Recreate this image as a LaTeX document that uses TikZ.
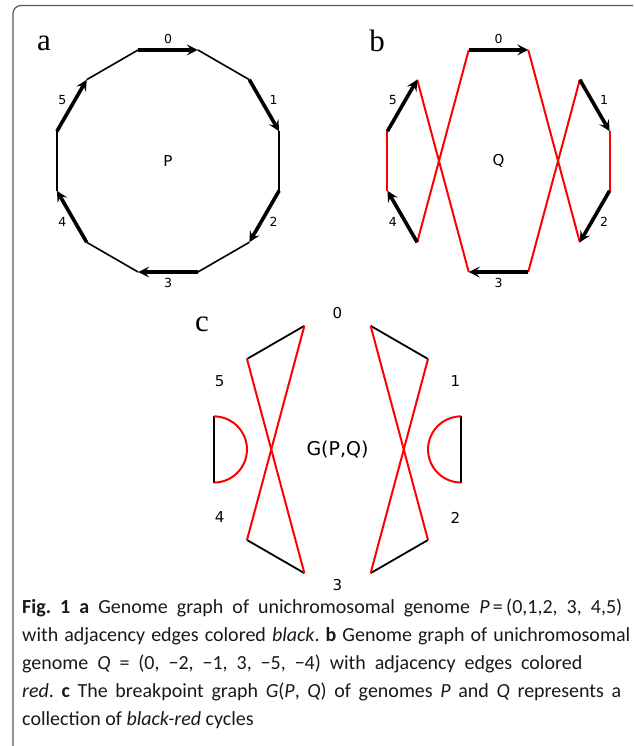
\documentclass[tikz,border=0pt]{standalone}
\usepackage{fontspec}
\setmainfont{DejaVu Sans}
\newfontfamily\lettfont{Liberation Serif}
\newfontfamily\capfont{Carlito}
\usetikzlibrary{calc,arrows.meta}

\begin{document}
\frenchspacing
\begin{tikzpicture}[x=1pt, y=1pt,
  gene/.style={line width=3.6pt, -{Stealth[length=11pt,width=11pt,inset=4.5pt]}},
  adj/.style={line width=1.6pt},
  redadj/.style={line width=2pt, red},
  num/.style={font=\fontsize{12.5}{13}\selectfont},
  bignum/.style={font=\fontsize{15}{15}\selectfont},
  panel/.style={anchor=base, font=\lettfont\fontsize{31}{31}\selectfont},
  capline/.style={anchor=base west, inner sep=0pt, text=black!90,
                  font=\capfont\fontsize{20}{25}\selectfont}]

  \useasboundingbox (0,0) rectangle (634,746);

  % ── Frame ─────────────────────────────────────────────────────────
  \draw[gray!70!black, line width=1.2pt, rounded corners=8pt]
    (633,740.5) -- (13,740.5) -- (13,0);

  % ── a: genome graph of P ──────────────────────────────────────────
  \node[panel] (pa) at (44,695) {a};
  \node[font=\fontsize{15}{15}\selectfont] (P) at (168,585) {P};
  \foreach \i in {0,...,5} {
    \coordinate (Pt\i) at ($(P)+({105-60*\i}:115)$);
    \coordinate (Ph\i) at ($(P)+({75-60*\i}:115)$);
    \node[num] (Pn\i) at ($(P)+({90-60*\i}:122)$) {\i};
  }
  % black adjacencies, then the genes on top
  \foreach \i/\j in {0/1,1/2,2/3,3/4,4/5,5/0}
    \draw[adj] (Ph\i) -- (Pt\j);
  \foreach \i in {0,...,5}
    \draw[gene] (Pt\i) -- (Ph\i);

  % ── b: genome graph of Q = (0,-2,-1,3,-5,-4) ──────────────────────
  \node[panel] (pb) at (377,694) {b};
  \node[font=\fontsize{15}{15}\selectfont] (Q) at (498.5,585) {Q};
  \foreach \i in {0,...,5} {
    \coordinate (Qt\i) at ($(Q)+({105-60*\i}:115)$);
    \coordinate (Qh\i) at ($(Q)+({75-60*\i}:115)$);
    \node[num] (Qn\i) at ($(Q)+({90-60*\i}:122)$) {\i};
  }
  % red adjacencies
  \draw[redadj] (Qh0) -- (Qh2);
  \draw[redadj] (Qt2) -- (Qh1);
  \draw[redadj] (Qt1) -- (Qt3);
  \draw[redadj] (Qh3) -- (Qh5);
  \draw[redadj] (Qt5) -- (Qh4);
  \draw[redadj] (Qt4) -- (Qt0);
  \foreach \i in {0,...,5}
    \draw[gene] (Qt\i) -- (Qh\i);

  % ── c: breakpoint graph G(P,Q) ────────────────────────────────────
  \node[panel] (pc) at (202,414) {c};
  \node[font=\fontsize{19}{19}\selectfont] (G) at (337.5,296.5) {G(P,Q)};
  \foreach \i in {0,...,5} {
    \coordinate (Gt\i) at ($(G)+({105-60*\i}:128)$);
    \coordinate (Gh\i) at ($(G)+({75-60*\i}:128)$);
    \node[bignum] (Gn\i) at ($(G)+({90-60*\i}:136)$) {\i};
  }
  % black edges (from P)
  \foreach \i/\j in {0/1,1/2,2/3,3/4,4/5,5/0}
    \draw[adj, line width=1.8pt] (Gh\i) -- (Gt\j);
  % red edges (from Q)
  \draw[redadj] (Gh0) -- (Gh2);
  \draw[redadj] (Gt1) -- (Gt3);
  \draw[redadj] (Gh3) -- (Gh5);
  \draw[redadj] (Gt4) -- (Gt0);
  \draw[redadj] (Gh1) arc[start angle=90, end angle=270, radius=33.1];
  \draw[redadj] (Gt5) arc[start angle=90, end angle=-90, radius=33.1];

  % ── Caption ───────────────────────────────────────────────────────
  \node[capline] (cap1) at (22,132)
    {\makebox[600pt][s]{\textbf{Fig. 1 a} Genome graph of unichromosomal genome \textit{P}\,=\,(0,1,2, 3, 4,5)}};
  \node[capline] (cap2) at (22,104)
    {\makebox[608pt][s]{with adjacency edges colored \textit{black}. \textbf{b} Genome graph of unichromosomal}};
  \node[capline] (cap3) at (22,76)
    {\makebox[560pt][s]{genome \textit{Q} = (0, −2, −1, 3, −5, −4) with adjacency edges colored}};
  \node[capline] (cap4) at (22,48)
    {\makebox[599pt][s]{\textit{red}. \textbf{c} The breakpoint graph \textit{G}(\textit{P}, \textit{Q}) of genomes \textit{P} and \textit{Q} represents a}};
  \node[capline] (cap5) at (22,20)
    {collection of \textit{black-red} cycles};

\end{tikzpicture}
\end{document}
